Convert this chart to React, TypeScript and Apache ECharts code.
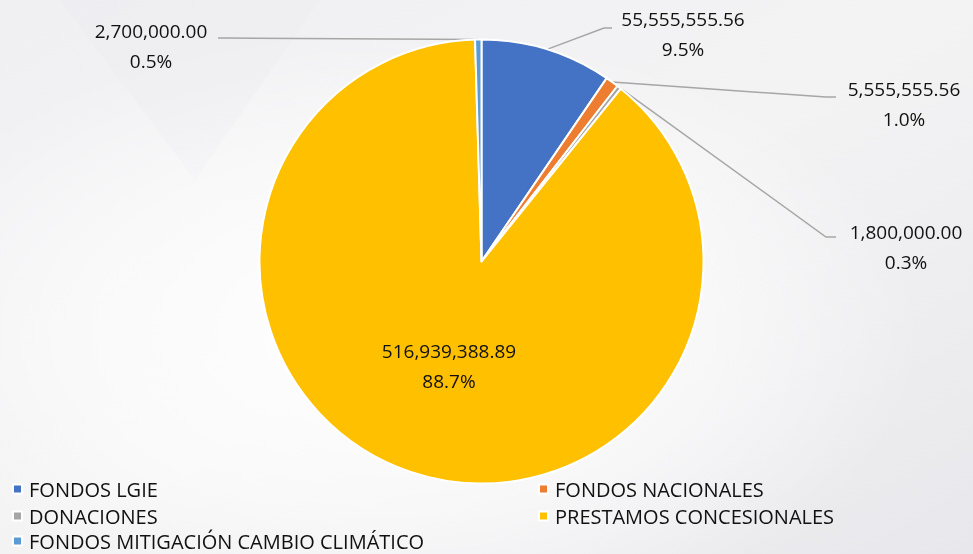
import React, { useEffect, useRef } from 'react';
import * as echarts from 'echarts';

const categories = [
  'FONDOS LGIE',
  'FONDOS NACIONALES',
  'DONACIONES',
  'PRESTAMOS CONCESIONALES',
  'FONDOS MITIGACIÓN CAMBIO CLIMÁTICO',
];
const values = [55555555.56, 5555555.56, 1800000.0, 516939388.89, 2700000.0];
const colors = ['#4472C4', '#ED7D31', '#A5A5A5', '#FFC000', '#5B9BD5'];

// legend placement per category: [left, top]
const legendSpots: number[][] = [
  [12, 479],
  [538, 479],
  [12, 506],
  [538, 506],
  [12, 531],
];

// label placement: [textCenterX, textCenterY, elbowX, elbowY, lineEndX]
const labelSpots: number[][] = [
  [683, 34, 604, 28, 612],
  [904, 104, 826, 97, 836],
  [906, 247, 826, 237, 836],
  [449, 366, 0, 0, 0],
  [151, 46, 224, 38, 218],
];

const FONT = "'Open Sans', 'Noto Sans', sans-serif";

export default function App() {
  const ref = useRef<HTMLDivElement>(null);
  useEffect(() => {
    if (!ref.current) return;
    const chart = echarts.init(ref.current, undefined, { renderer: 'svg' });
    const total = values.reduce((a, b) => a + b, 0);
    const fmt = (v: number) =>
      v.toLocaleString('en-US', { minimumFractionDigits: 2, maximumFractionDigits: 2 });
    const data = categories.map((name, i) => ({
      name,
      value: values[i],
      itemStyle: { color: colors[i] },
      ...(i === 3
        ? { label: { position: 'inside' as const }, labelLine: { show: false } }
        : {}),
    }));
    chart.setOption({
      animation: false,
      graphic: [
        {
          type: 'rect',
          silent: true,
          z: -10,
          shape: { x: 0, y: 0, width: 973, height: 554 },
          style: {
            fill: new echarts.graphic.LinearGradient(0, 0, 1, 1, [
              { offset: 0, color: '#f0eff2' },
              { offset: 0.5, color: '#f3f3f4' },
              { offset: 1, color: '#e8e7eb' },
            ]),
          },
        },
        {
          type: 'rect',
          silent: true,
          z: -9,
          shape: { x: 0, y: 0, width: 973, height: 554 },
          style: {
            fill: new echarts.graphic.RadialGradient(0.4, 0.6, 0.55, [
              { offset: 0, color: 'rgba(255,255,255,0.95)' },
              { offset: 0.6, color: 'rgba(255,255,255,0.55)' },
              { offset: 1, color: 'rgba(255,255,255,0)' },
            ]),
          },
        },
        {
          type: 'polygon',
          silent: true,
          z: -8,
          shape: { points: [[60, 0], [320, 0], [195, 180]] },
          style: { fill: 'rgba(228,227,233,0.15)' },
        },
      ],
      legend: categories.map((name, i) => ({
        left: legendSpots[i][0],
        top: legendSpots[i][1],
        padding: 0,
        itemWidth: 9,
        itemHeight: 9,
        icon: 'rect',
        data: [name],
        textStyle: {
          fontSize: 20,
          color: '#111111',
          fontFamily: FONT,
          lineHeight: 20,
          padding: [0, 0, 0, 2],
        },
      })),
      series: [
        {
          type: 'pie',
          center: [481.5, 261.5],
          radius: 222,
          startAngle: 90,
          clockwise: true,
          avoidLabelOverlap: false,
          itemStyle: { borderColor: '#ffffff', borderWidth: 2 },
          label: {
            show: true,
            position: 'outside',
            fontFamily: FONT,
            fontSize: 19,
            lineHeight: 30,
            color: '#111111',
            formatter: (p: any) =>
              fmt(p.value) + '\n' + ((p.value / total) * 100).toFixed(1) + '%',
          },
          labelLine: {
            show: true,
            length: 10,
            length2: 10,
            lineStyle: { color: '#a6a6a6', width: 1.5 },
          },
          labelLayout: (params: any) => {
            const s = labelSpots[params.dataIndex];
            const res: any = { x: s[0], y: s[1], align: 'center', verticalAlign: 'middle' };
            if (params.dataIndex !== 3 && params.labelLinePoints) {
              const p0 = params.labelLinePoints[0];
              res.labelLinePoints = [p0, [s[2], s[3]], [s[4], s[3]]];
            }
            return res;
          },
          data,
        },
      ],
    });
    return () => chart.dispose();
  }, []);
  return (
    <div
      ref={ref}
      style={{ position: 'fixed', left: 0, top: 0, width: 973, height: 554 }}
    />
  );
}
